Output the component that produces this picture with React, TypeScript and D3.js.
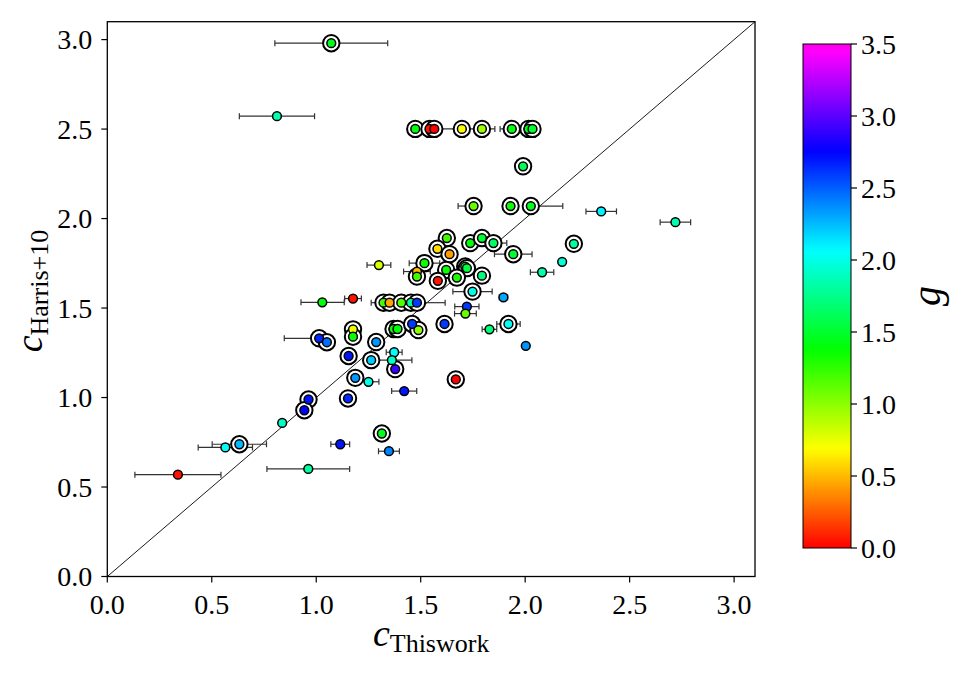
import React from "react";
import * as d3 from "d3";

// c (this work), c (Harris+10), g, ringed flag, x error below / above
const cThis = [
  1.072, 0.812, 1.474, 1.542, 1.565, 1.697, 1.793, 1.936, 2.016, 2.035,
  1.990, 1.753, 1.930, 2.027, 2.364, 2.719, 2.233, 2.177, 2.081, 1.625,
  1.737, 1.793, 1.848, 1.943, 1.580, 1.638, 1.518, 1.482, 1.482, 1.622,
  1.713, 1.721, 1.673, 1.582, 1.793, 1.748, 1.896, 1.300, 1.176, 1.322,
  1.351, 1.407, 1.453, 1.482, 1.029, 1.721, 1.714, 1.614, 1.370, 1.389,
  1.459, 1.489, 1.829, 1.920, 2.003, 1.176, 1.176, 1.014, 1.051, 1.287,
  1.155, 1.263, 1.373, 1.362, 1.378, 1.187, 1.250, 1.421, 1.668, 1.152,
  0.963, 0.943, 0.837, 0.632, 0.565, 0.338, 0.962, 1.115, 1.314, 1.348,
];
const cHarris = [
  2.980, 2.572, 2.501, 2.501, 2.501, 2.501, 2.501, 2.501, 2.501, 2.501,
  2.292, 2.070, 2.070, 2.070, 2.040, 1.980, 1.859, 1.758, 1.700, 1.891,
  1.863, 1.891, 1.863, 1.801, 1.831, 1.801, 1.751, 1.704, 1.676, 1.713,
  1.732, 1.723, 1.670, 1.652, 1.681, 1.592, 1.560, 1.740, 1.553, 1.530,
  1.530, 1.530, 1.530, 1.530, 1.532, 1.508, 1.469, 1.411, 1.383, 1.383,
  1.411, 1.377, 1.381, 1.411, 1.289, 1.381, 1.340, 1.331, 1.309, 1.310,
  1.232, 1.209, 1.253, 1.209, 1.159, 1.110, 1.088, 1.036, 1.101, 0.995,
  0.989, 0.929, 0.858, 0.739, 0.721, 0.569, 0.601, 0.739, 0.799, 0.700,
];
const gVal = [
  1.45, 1.85, 1.40, 0.05, 0.00, 0.70, 0.95, 1.40, 1.45, 1.50,
  1.60, 1.10, 1.35, 1.45, 2.10, 1.85, 1.80, 1.95, 1.85, 1.20,
  1.40, 1.50, 1.65, 1.50, 0.60, 0.42, 1.35, 0.50, 1.20, 1.35,
  1.50, 1.55, 1.30, 0.05, 1.70, 2.00, 2.30, 0.80, 0.05, 1.20,
  0.45, 1.15, 1.80, 2.60, 1.40, 2.60, 1.10, 2.60, 1.35, 1.40,
  2.60, 1.00, 1.70, 2.05, 2.35, 0.75, 1.35, 2.65, 2.45, 2.35,
  2.70, 2.20, 2.05, 1.90, 2.90, 2.35, 2.00, 2.70, 0.00, 2.65,
  2.70, 2.75, 1.90, 2.25, 2.05, 0.05, 1.80, 2.70, 1.45, 2.40,
];
const ringed = [
  1, 0, 1, 1, 1, 1, 1, 1, 1, 1,
  1, 1, 1, 1, 0, 0, 1, 0, 0, 1,
  1, 1, 1, 1, 1, 1, 1, 0, 1, 1,
  1, 1, 1, 1, 1, 1, 0, 0, 0, 1,
  1, 1, 1, 1, 0, 0, 0, 1, 1, 1,
  1, 1, 0, 1, 0, 1, 1, 1, 1, 1,
  1, 1, 0, 0, 1, 1, 0, 0, 1, 1,
  1, 1, 0, 1, 0, 0, 0, 0, 1, 0,
];
const xErrLo = [
  0.27, 0.18, 0, 0, 0, 0, 0, 0.056, 0, 0,
  0, 0.074, 0, 0, 0.073, 0.073, 0, 0, 0.056, 0,
  0, 0, 0.064, 0.09, 0, 0, 0.073, 0.064, 0, 0,
  0, 0, 0, 0, 0, 0.094, 0.02, 0.057, 0.04, 0.059,
  0, 0, 0, 0, 0.102, 0.058, 0.052, 0, 0, 0,
  0, 0, 0.035, 0.056, 0, 0, 0, 0.167, 0, 0,
  0, 0, 0.038, 0.096, 0, 0, 0.05, 0.06, 0, 0,
  0, 0, 0, 0.13, 0.13, 0.206, 0.198, 0.045, 0, 0.05,
];
const xErrHi = [
  0.27, 0.18, 0, 0, 0.29, 0, 0, 0, 0, 0,
  0, 0, 0, 0.153, 0.073, 0.073, 0, 0, 0.056, 0,
  0, 0, 0.064, 0.09, 0, 0, 0.073, 0.064, 0, 0,
  0, 0, 0, 0, 0, 0.094, 0.02, 0.057, 0.04, 0,
  0, 0, 0, 0.135, 0.105, 0.058, 0.052, 0, 0, 0,
  0, 0, 0.035, 0.056, 0, 0, 0, 0, 0, 0,
  0, 0, 0.038, 0.096, 0, 0, 0.05, 0.06, 0, 0,
  0, 0, 0, 0.13, 0.13, 0.206, 0.198, 0.045, 0, 0.05,
];

const axisTicks = [0, 0.5, 1.0, 1.5, 2.0, 2.5, 3.0];
const cbarTicks = [0, 0.5, 1.0, 1.5, 2.0, 2.5, 3.0, 3.5];

const W = 959;
const H = 674;
const plot = { left: 107.3, right: 755, top: 21.7, bottom: 576.5 };
const cbar = { left: 803, right: 851, top: 44, bottom: 548 };
const FONT = "'Liberation Serif', 'DejaVu Serif', serif";

// hsv colormap: hue sweeps red -> magenta over the g range
const hue = d3.scaleLinear().domain([0, 3.5]).range([0, 305]);
const gColor = (g: number) => d3.hsl(hue(g), 1, 0.5).formatHex();

export default function App() {
  const x = d3.scaleLinear().domain([0, 3.1]).range([plot.left, plot.right]);
  const y = d3.scaleLinear().domain([0, 3.1]).range([plot.bottom, plot.top]);
  const gy = d3.scaleLinear().domain([0, 3.5]).range([cbar.bottom, cbar.top]);

  const pts = cThis.map((c, i) => ({
    x: c,
    y: cHarris[i],
    g: gVal[i],
    ring: ringed[i] === 1,
    lo: xErrLo[i],
    hi: xErrHi[i],
  }));

  const stops = d3.range(0, 3.5001, 0.05);

  return (
    <svg
      width={W}
      height={H}
      style={{ position: "absolute", left: 0, top: 0, background: "#fff" }}
      fontFamily={FONT}
    >
      <defs>
        <linearGradient id="cbarGrad" x1="0" y1="1" x2="0" y2="0">
          {stops.map((s) => (
            <stop key={s} offset={s / 3.5} stopColor={gColor(s)} />
          ))}
        </linearGradient>
        <clipPath id="plotClip">
          <rect
            x={plot.left}
            y={plot.top}
            width={plot.right - plot.left}
            height={plot.bottom - plot.top}
          />
        </clipPath>
      </defs>

      {/* one-to-one line */}
      <line
        x1={x(0)}
        y1={y(0)}
        x2={x(3.1)}
        y2={y(3.1)}
        stroke="#000"
        strokeWidth={0.9}
        clipPath="url(#plotClip)"
      />

      {/* horizontal error bars */}
      <g stroke="#333" strokeWidth={1.2}>
        {pts
          .filter((p) => p.lo > 0 || p.hi > 0)
          .map((p, i) => {
            const x0 = x(p.x - p.lo);
            const x1 = x(p.x + p.hi);
            const yy = y(p.y);
            return (
              <g key={i}>
                <line x1={x0} x2={x1} y1={yy} y2={yy} />
                {p.lo > 0 && <line x1={x0} x2={x0} y1={yy - 3} y2={yy + 3} />}
                {p.hi > 0 && <line x1={x1} x2={x1} y1={yy - 3} y2={yy + 3} />}
              </g>
            );
          })}
      </g>

      {/* rings */}
      {pts
        .filter((p) => p.ring)
        .map((p, i) => (
          <circle
            key={i}
            cx={x(p.x)}
            cy={y(p.y)}
            r={8.2}
            fill="#fff"
            stroke="#000"
            strokeWidth={2}
          />
        ))}

      {/* points coloured by g */}
      {pts.map((p, i) => (
        <circle
          key={i}
          cx={x(p.x)}
          cy={y(p.y)}
          r={4.4}
          fill={gColor(p.g)}
          stroke="#000"
          strokeWidth={1.5}
        />
      ))}

      {/* frame */}
      <rect
        x={plot.left}
        y={plot.top}
        width={plot.right - plot.left}
        height={plot.bottom - plot.top}
        fill="none"
        stroke="#000"
        strokeWidth={1.3}
      />

      {/* x axis */}
      {axisTicks.map((t) => (
        <g key={"x" + t}>
          <line x1={x(t)} x2={x(t)} y1={plot.bottom} y2={plot.bottom + 6} stroke="#000" strokeWidth={1.2} />
          <text x={x(t)} y={plot.bottom + 37} textAnchor="middle" fontSize={28}>
            {t.toFixed(1)}
          </text>
        </g>
      ))}
      {/* y axis */}
      {axisTicks.map((t) => (
        <g key={"y" + t}>
          <line x1={plot.left - 6} x2={plot.left} y1={y(t)} y2={y(t)} stroke="#000" strokeWidth={1.2} />
          <text x={plot.left - 15} y={y(t) + 9.5} textAnchor="end" fontSize={28}>
            {t.toFixed(1)}
          </text>
        </g>
      ))}

      {/* axis labels */}
      <text x={(plot.left + plot.right) / 2} y={646} textAnchor="middle">
        <tspan fontSize={38} fontStyle="italic">c</tspan>
        <tspan fontSize={26} dy={6}>Thiswork</tspan>
      </text>
      <text
        transform={`translate(42, ${(plot.top + plot.bottom) / 2 - 8}) rotate(-90)`}
        textAnchor="middle"
      >
        <tspan fontSize={38} fontStyle="italic">c</tspan>
        <tspan fontSize={26} dy={6}>Harris+10</tspan>
      </text>

      {/* colorbar */}
      <rect
        x={cbar.left}
        y={cbar.top}
        width={cbar.right - cbar.left}
        height={cbar.bottom - cbar.top}
        fill="url(#cbarGrad)"
        stroke="#000"
        strokeWidth={1}
      />
      {cbarTicks.map((t) => (
        <g key={"c" + t}>
          <line x1={cbar.right} x2={cbar.right + 6} y1={gy(t)} y2={gy(t)} stroke="#000" strokeWidth={1.2} />
          <text x={cbar.right + 10} y={gy(t) + 9.5} fontSize={28}>
            {t.toFixed(1)}
          </text>
        </g>
      ))}
      <text
        transform={`translate(940, ${(cbar.top + cbar.bottom) / 2}) rotate(-90)`}
        textAnchor="middle"
        fontSize={40}
        fontStyle="italic"
      >
        g
      </text>
    </svg>
  );
}
